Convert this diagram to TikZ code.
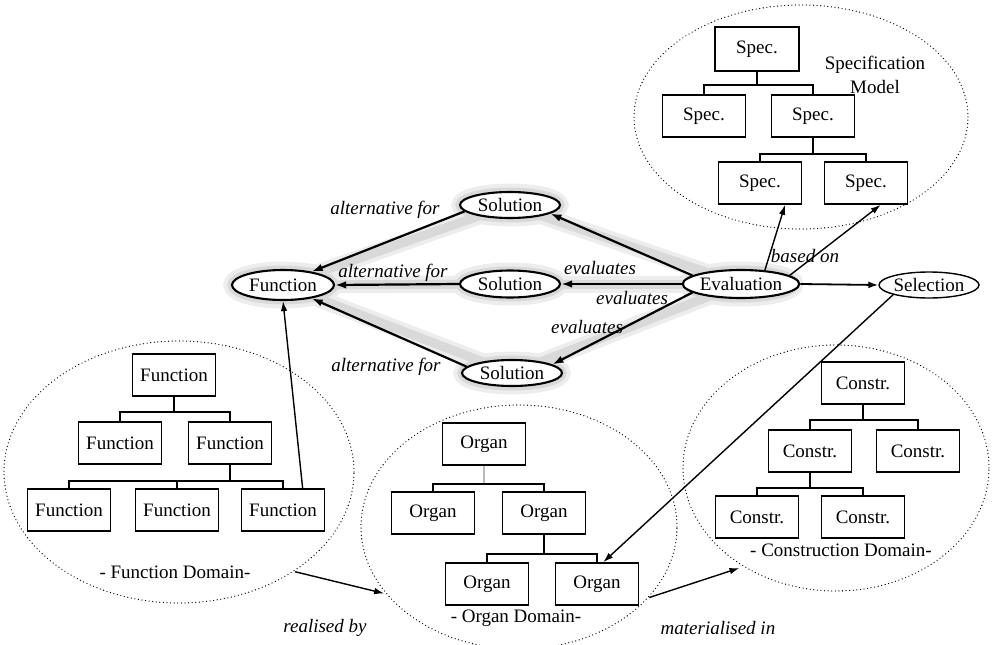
\documentclass[tikz,border=0pt]{standalone}
\usepackage{fontspec}
\setmainfont{Liberation Serif}
\usetikzlibrary{arrows.meta,shapes.geometric}
\pgfdeclarelayer{halo}
\pgfsetlayers{halo,main}

\begin{document}
\begin{tikzpicture}[x=1pt,y=-1pt,
  every node/.style={font=\fontsize{19}{24}\selectfont},
  box/.style={draw,line width=1.6pt,minimum width=83pt,minimum height=42pt,inner sep=0pt},
  oval/.style={draw,ellipse,line width=2.1pt,fill=white,inner sep=0pt},
  zone/.style={draw,ellipse,line width=1.3pt,line cap=round,dash pattern=on 0pt off 3.6pt,inner sep=0pt,outer sep=0pt},
  tree/.style={line width=1.4pt},
  lbl/.style={font=\fontsize{19}{24}\selectfont\itshape,inner sep=1pt},
  link/.style={line width=2.2pt,-{Latex[length=11pt,width=7.5pt]}},
  thin link/.style={line width=1.4pt,-{Latex[length=10pt,width=6.5pt]}},
  glow/.style={line width=17pt,draw=gray!14,line cap=round},
  glow core/.style={line width=9pt,draw=gray!30,line cap=round},
]
\useasboundingbox (0,0) rectangle (994,645);

% ---------- domain outlines ----------
\node[zone,minimum width=334pt,minimum height=224pt] (sm) at (801,117) {};
\node[zone,minimum width=350pt,minimum height=262pt] (fd) at (179,472) {};
\node[zone,minimum width=316pt,minimum height=244pt] (od) at (519,527) {};
\node[zone,minimum width=306pt,minimum height=246pt] (cd) at (836,468) {};

% ---------- specification model ----------
\node[box,minimum width=84pt,minimum height=44pt] (s1) at (757,49) {Spec.};
\node[box] (s2) at (704,116) {Spec.};
\node[box] (s3) at (813,116) {Spec.};
\node[box] (s4) at (760,183) {Spec.};
\node[box] (s5) at (866,183) {Spec.};
\draw[tree] (s1.south) -- ++(0,13) -| (s2.north);
\draw[tree] (s1.south) -- ++(0,13) -| (s3.north);
\draw[tree] (s3.south) -- ++(0,16) -| (s4.north);
\draw[tree] (s3.south) -- ++(0,16) -| (s5.north);
\node[align=center,inner sep=0pt] (smt) at (875,75) {Specification\\Model};

% ---------- function domain ----------
\node[box] (f1) at (174,375) {Function};
\node[box] (f2) at (120,443) {Function};
\node[box] (f3) at (230,443) {Function};
\node[box] (f4) at (69,510) {Function};
\node[box] (f5) at (177,510) {Function};
\node[box] (f6) at (283,510) {Function};
\draw[tree] (f1.south) -- ++(0,15) -| (f2.north);
\draw[tree] (f1.south) -- ++(0,15) -| (f3.north);
\draw[tree] (f3.south) -- ++(0,16) -| (f4.north);
\draw[tree] (f3.south) -- ++(0,16) -| (f5.north);
\draw[tree] (f3.south) -- ++(0,16) -| (f6.north);
\node (fdt) at (175,572) {- Function Domain-};

% ---------- organ domain ----------
\node[box] (o1) at (484,444) {Organ};
\node[box] (o2) at (433,513) {Organ};
\node[box] (o3) at (544,513) {Organ};
\node[box] (o4) at (487,584) {Organ};
\node[box] (o5) at (597,584) {Organ};
\draw[tree,gray!55] (o1.south) -- ++(0,18) coordinate (oj);
\draw[tree] (o2.north) |- (oj) -| (o3.north);
\draw[tree] (o3.south) -- ++(0,19) -| (o4.north);
\draw[tree] (o3.south) -- ++(0,19) -| (o5.north);
\node (odt) at (516,618) {- Organ Domain-};

% ---------- construction domain ----------
\node[box] (c1) at (863,383) {Constr.};
\node[box] (c2) at (810,451) {Constr.};
\node[box] (c3) at (918,451) {Constr.};
\node[box] (c4) at (757,517) {Constr.};
\node[box] (c5) at (863,517) {Constr.};
\draw[tree] (c1.south) -- ++(0,15) -| (c2.north);
\draw[tree] (c1.south) -- ++(0,15) -| (c3.north);
\draw[tree] (c2.south) -- ++(0,15) -| (c4.north);
\draw[tree] (c2.south) -- ++(0,15) -| (c5.north);
\node (cdt) at (841,550) {- Construction Domain-};

% ---------- solution space ----------
\node[oval,minimum width=102pt,minimum height=30pt] (fn) at (283,285) {Function};
\node[oval,minimum width=100pt,minimum height=26pt] (sol1) at (510,205) {Solution};
\node[oval,minimum width=100pt,minimum height=27pt] (sol2) at (510,284) {Solution};
\node[oval,minimum width=100pt,minimum height=26pt] (sol3) at (512,373) {Solution};
\node[oval,minimum width=108pt,minimum height=28pt] (ev) at (741,284) {Evaluation};
\node[oval,line width=1.4pt,minimum width=94pt,minimum height=26pt] (sel) at (929,285) {Selection};

% soft grey band behind the evaluation network
\begin{pgfonlayer}{halo}
  \foreach \s in {sol1,sol2,sol3} {
    \draw[glow] (\s.center) -- (fn.center);
    \draw[glow] (\s.center) -- (ev.center);
  }
  \draw[glow] (fn.center) ellipse [x radius=51pt,y radius=15pt];
  \foreach \s in {sol1,sol2,sol3}
    \draw[glow] (\s.center) ellipse [x radius=50pt,y radius=13pt];
  \draw[glow] (ev.center) ellipse [x radius=54pt,y radius=14pt];
  \foreach \s in {sol1,sol2,sol3} {
    \draw[glow core] (\s.center) -- (fn.center);
    \draw[glow core] (\s.center) -- (ev.center);
  }
  \draw[glow core] (fn.center) ellipse [x radius=51pt,y radius=15pt];
  \foreach \s in {sol1,sol2,sol3}
    \draw[glow core] (\s.center) ellipse [x radius=50pt,y radius=13pt];
  \draw[glow core] (ev.center) ellipse [x radius=54pt,y radius=14pt];
\end{pgfonlayer}

% alternatives for the function
\draw[link] (sol1.188) -- (fn.25);
\draw[link] (sol2.west) -- (fn.east);
\draw[link] (sol3.172) -- (fn.-25);
% evaluation of the alternatives
\draw[link] (ev.170) -- (sol1.-12);
\draw[link] (ev.west) -- (sol2.east);
\draw[link] (ev.190) -- (sol3.12);
\draw[line width=1.8pt,-{Latex[length=10pt,width=7pt]}] (ev.east) -- (sel.west);
% specification references
\draw[thin link] (ev.30) -- (s4.-41);
\draw[thin link] (ev.10) -- (s5.-56);
% links to the domains
\draw[thin link] (f6.48) -- (fn.south);
\draw[thin link] (sel.south west) -- (o5.74);
\draw[thin link,shorten <=2pt,shorten >=3pt] (fd.-41) -- (od.207);
\draw[thin link,shorten <=2pt,shorten >=5pt] (od.-29) -- (cd.227);

% ---------- relation labels ----------
\node[lbl] (la1) at (385,210) {alternative for};
\node[lbl] (la2) at (393,273) {alternative for};
\node[lbl] (la3) at (386,367) {alternative for};
\node[lbl] (le1) at (600,268) {evaluates};
\node[lbl] (le2) at (632,298) {evaluates};
\node[lbl] (le3) at (587,327) {evaluates};
\node[lbl] (lb) at (805,256) {based on};
\node[lbl] (lr) at (325,628) {realised by};
\node[lbl] (lm) at (718,628) {materialised in};
\end{tikzpicture}
\end{document}
